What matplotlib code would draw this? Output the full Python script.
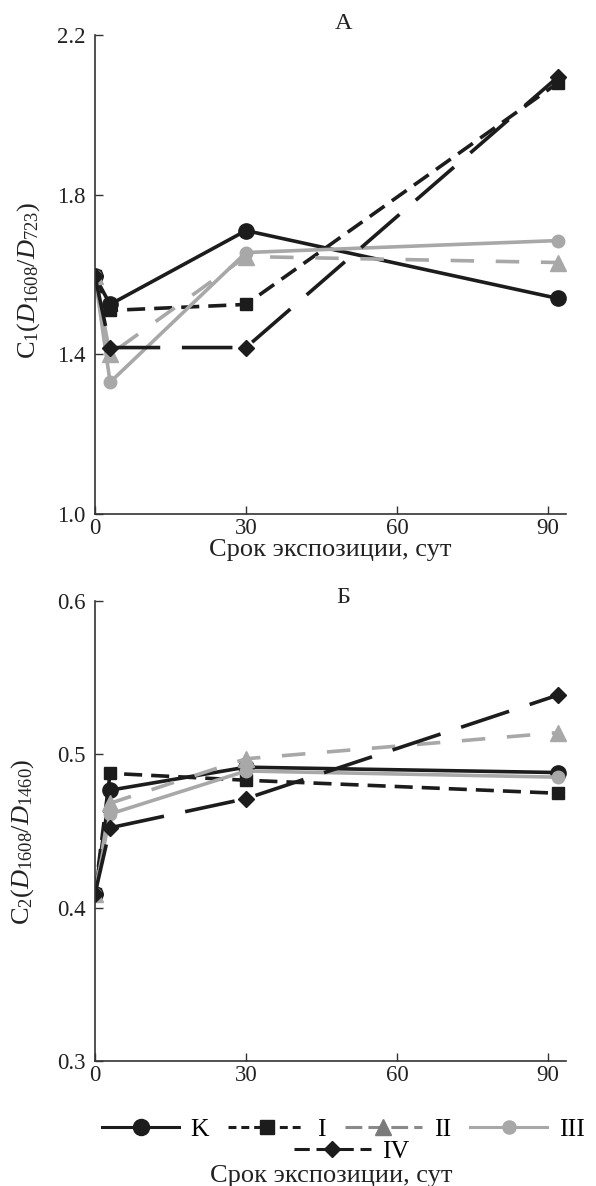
import matplotlib.pyplot as plt
from matplotlib.lines import Line2D

plt.rcParams['font.family'] = ['Liberation Serif', 'DejaVu Serif']
plt.rcParams['mathtext.fontset'] = 'custom'
plt.rcParams['mathtext.rm'] = 'Liberation Serif'
plt.rcParams['mathtext.it'] = 'Liberation Serif:italic'

# сроки экспозиции, сут
days = [0, 3, 30, 92]

# панель А: C1(D1608/D723)
c1_K = [1.595, 1.525, 1.71, 1.54]
c1_I = [1.595, 1.51, 1.525, 2.08]
c1_II = [1.595, 1.40, 1.645, 1.63]
c1_III = [1.595, 1.33, 1.655, 1.685]
c1_IV = [1.595, 1.417, 1.417, 2.095]

# панель Б: C2(D1608/D1460)
c2_K = [0.409, 0.4765, 0.4915, 0.488]
c2_I = [0.409, 0.4875, 0.483, 0.4745]
c2_II = [0.409, 0.468, 0.497, 0.514]
c2_III = [0.409, 0.461, 0.489, 0.485]
c2_IV = [0.409, 0.452, 0.471, 0.5385]

labels = ['K', 'I', 'II', 'III', 'IV']

BLACK = '#1c1c1c'
GREY = '#a8a8a8'
styles = [
    dict(color=BLACK, ls='-', marker='o', ms=11),
    dict(color=BLACK, ls=(0, (5, 2.5)), marker='s', ms=9),
    dict(color=GREY, ls=(0, (6.5, 6)), marker='^', ms=11),
    dict(color=GREY, ls='-', marker='o', ms=9),
    dict(color=BLACK, ls=(0, (14, 6)), marker='D', ms=8),
]
# вид линий в легенде
leg_styles = [
    dict(color=BLACK, ls='-'),
    dict(color=BLACK, ls=(0, (2.6, 1.6))),
    dict(color='#8a8a8a', ls=(0, (5.5, 2))),
    dict(color=GREY, ls='-'),
    dict(color=BLACK, ls=(0, (5, 2.2))),
]

fig = plt.figure(figsize=(5.96, 11.86), dpi=100)
ax1 = fig.add_axes([0.1594, 0.5666, 0.7903, 0.4039])
ax2 = fig.add_axes([0.1594, 0.1054, 0.7903, 0.3881])

TXT = '#222222'


def draw(ax, series, ylim, yticks, ylabel):
    for vals, st in zip(series, styles):
        ax.plot(days, vals, color=st['color'], ls=st['ls'], lw=2.6,
                marker=st['marker'], ms=st['ms'], mfc=st['color'], mec=st['color'])
    ax.set_xlim(0, 93.6)
    ax.set_ylim(*ylim)
    ax.set_xticks([0, 30, 60, 90])
    ax.set_yticks(yticks)
    ax.set_yticklabels([f'{t:.1f}' for t in yticks])
    for s in ['top', 'right']:
        ax.spines[s].set_visible(False)
    for s in ['left', 'bottom']:
        ax.spines[s].set_color('#333333')
        ax.spines[s].set_linewidth(1.2)
    ax.tick_params(direction='in', length=6, width=1.0, colors='#333333',
                   labelcolor=TXT, labelsize=16.5)
    ax.tick_params(axis='y', pad=7)
    ax.tick_params(axis='x', pad=3)
    ax.set_ylabel(ylabel, fontsize=19, color=TXT)


draw(ax1, [c1_K, c1_I, c1_II, c1_III, c1_IV], (1.0, 2.2), [1.0, 1.4, 1.8, 2.2],
     r'C$_1$($\mathit{D}_{1608}$/$\mathit{D}_{723}$)')
draw(ax2, [c2_K, c2_I, c2_II, c2_III, c2_IV], (0.3, 0.6), [0.3, 0.4, 0.5, 0.6],
     r'C$_2$($\mathit{D}_{1608}$/$\mathit{D}_{1460}$)')
ax1.yaxis.set_label_coords(-0.113, 0.487)
ax2.yaxis.set_label_coords(-0.126, 0.476)

ax1.set_xlabel('Срок экспозиции, сут', fontsize=19, color=TXT, labelpad=0)
ax1.text(0.527, 1.012, 'А', transform=ax1.transAxes, ha='center', va='baseline',
         fontsize=17.5, color=TXT)
ax2.text(0.527, 0.995, 'Б', transform=ax2.transAxes, ha='center', va='baseline',
         fontsize=17.5, color=TXT)

handles = []
for st, lst, lab in zip(styles, leg_styles, labels):
    mcol = '#7a7a7a' if lab == 'II' else st['color']
    handles.append(Line2D([], [], color=lst['color'], ls=lst['ls'], lw=2.2,
                          marker=st['marker'], ms=st['ms'] * 1.05,
                          mfc=mcol, mec=mcol, label=lab))

leg1 = fig.legend(handles=handles[:4], loc='center', bbox_to_anchor=(0.576, 0.048),
                  ncol=4, frameon=False, fontsize=18.5, handlelength=3.0,
                  columnspacing=0.75, handletextpad=0.45, borderpad=0)
leg2 = fig.legend(handles=handles[4:], loc='center', bbox_to_anchor=(0.59, 0.029),
                  ncol=1, frameon=False, fontsize=18.5, handlelength=3.0,
                  handletextpad=0.45, borderpad=0)
fig.text(0.555, 0.0085, 'Срок экспозиции, сут', ha='center', va='center',
         fontsize=19, color=TXT)

fig.savefig('out.png', dpi=100)
